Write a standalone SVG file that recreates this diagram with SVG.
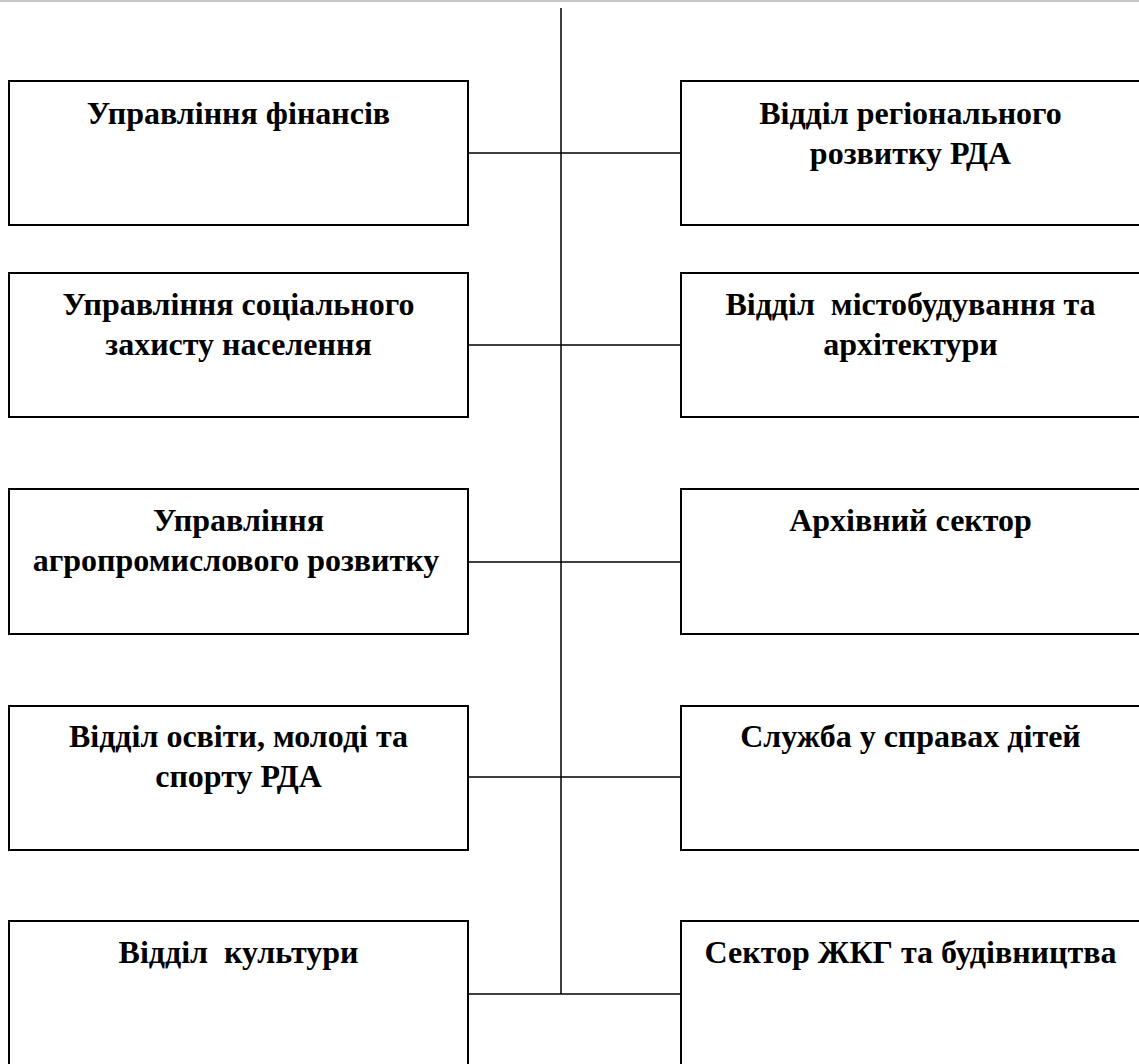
<svg xmlns="http://www.w3.org/2000/svg" width="1139" height="1064" viewBox="0 0 1139 1064">
<style>
  .box { fill: #ffffff; stroke: #000000; stroke-width: 2; }
  .lbl { font-family: "Liberation Serif", "Times New Roman", serif; font-weight: bold; font-size: 32px; fill: #000000; text-anchor: middle; white-space: pre; }
  .conn { stroke: #000000; stroke-width: 1.5; fill: none; }
</style>
<rect x="0" y="0" width="1139" height="1064" fill="#ffffff"/>
<line x1="0" y1="1" x2="1139" y2="1" stroke="#c8c8c8" stroke-width="2"/>
<g id="connectors">
  <line class="conn" x1="561" y1="8" x2="561" y2="994"/>
  <line class="conn" x1="464" y1="153" x2="681" y2="153"/>
  <line class="conn" x1="464" y1="345" x2="681" y2="345"/>
  <line class="conn" x1="464" y1="562" x2="681" y2="562"/>
  <line class="conn" x1="464" y1="777" x2="681" y2="777"/>
  <line class="conn" x1="464" y1="994" x2="681" y2="994"/>
</g>
<g id="n-finance">
  <rect class="box" x="9" y="81" width="459" height="144"/>
  <text class="lbl" x="238.5" y="124">Управління фінансів</text>
</g>
<g id="n-regional">
  <rect class="box" x="681" y="81" width="459" height="144"/>
  <text class="lbl" x="910.5" y="124">Відділ регіонального</text>
  <text class="lbl" x="910.5" y="164">розвитку РДА</text>
</g>
<g id="n-social">
  <rect class="box" x="9" y="273" width="459" height="144"/>
  <text class="lbl" x="238.5" y="315">Управління соціального</text>
  <text class="lbl" x="238.5" y="355">захисту населення</text>
</g>
<g id="n-urban">
  <rect class="box" x="681" y="273" width="459" height="144"/>
  <text class="lbl" x="910.5" y="315" xml:space="preserve">Відділ  містобудування та</text>
  <text class="lbl" x="910.5" y="355">архітектури</text>
</g>
<g id="n-agro">
  <rect class="box" x="9" y="489" width="459" height="145"/>
  <text class="lbl" x="238.5" y="531">Управління</text>
  <text class="lbl" x="236" y="571">агропромислового розвитку</text>
</g>
<g id="n-archive">
  <rect class="box" x="681" y="489" width="459" height="145"/>
  <text class="lbl" x="910.5" y="531">Архівний сектор</text>
</g>
<g id="n-education">
  <rect class="box" x="9" y="706" width="459" height="144"/>
  <text class="lbl" x="238.5" y="747">Відділ освіти, молоді та</text>
  <text class="lbl" x="238.5" y="787">спорту РДА</text>
</g>
<g id="n-children">
  <rect class="box" x="681" y="706" width="459" height="144"/>
  <text class="lbl" x="910.5" y="747">Служба у справах дітей</text>
</g>
<g id="n-culture">
  <rect class="box" x="9" y="921" width="459" height="160"/>
  <text class="lbl" x="238.5" y="963" xml:space="preserve">Відділ  культури</text>
</g>
<g id="n-housing">
  <rect class="box" x="681" y="921" width="459" height="160"/>
  <text class="lbl" x="910.5" y="963">Сектор ЖКГ та будівництва</text>
</g>
</svg>
